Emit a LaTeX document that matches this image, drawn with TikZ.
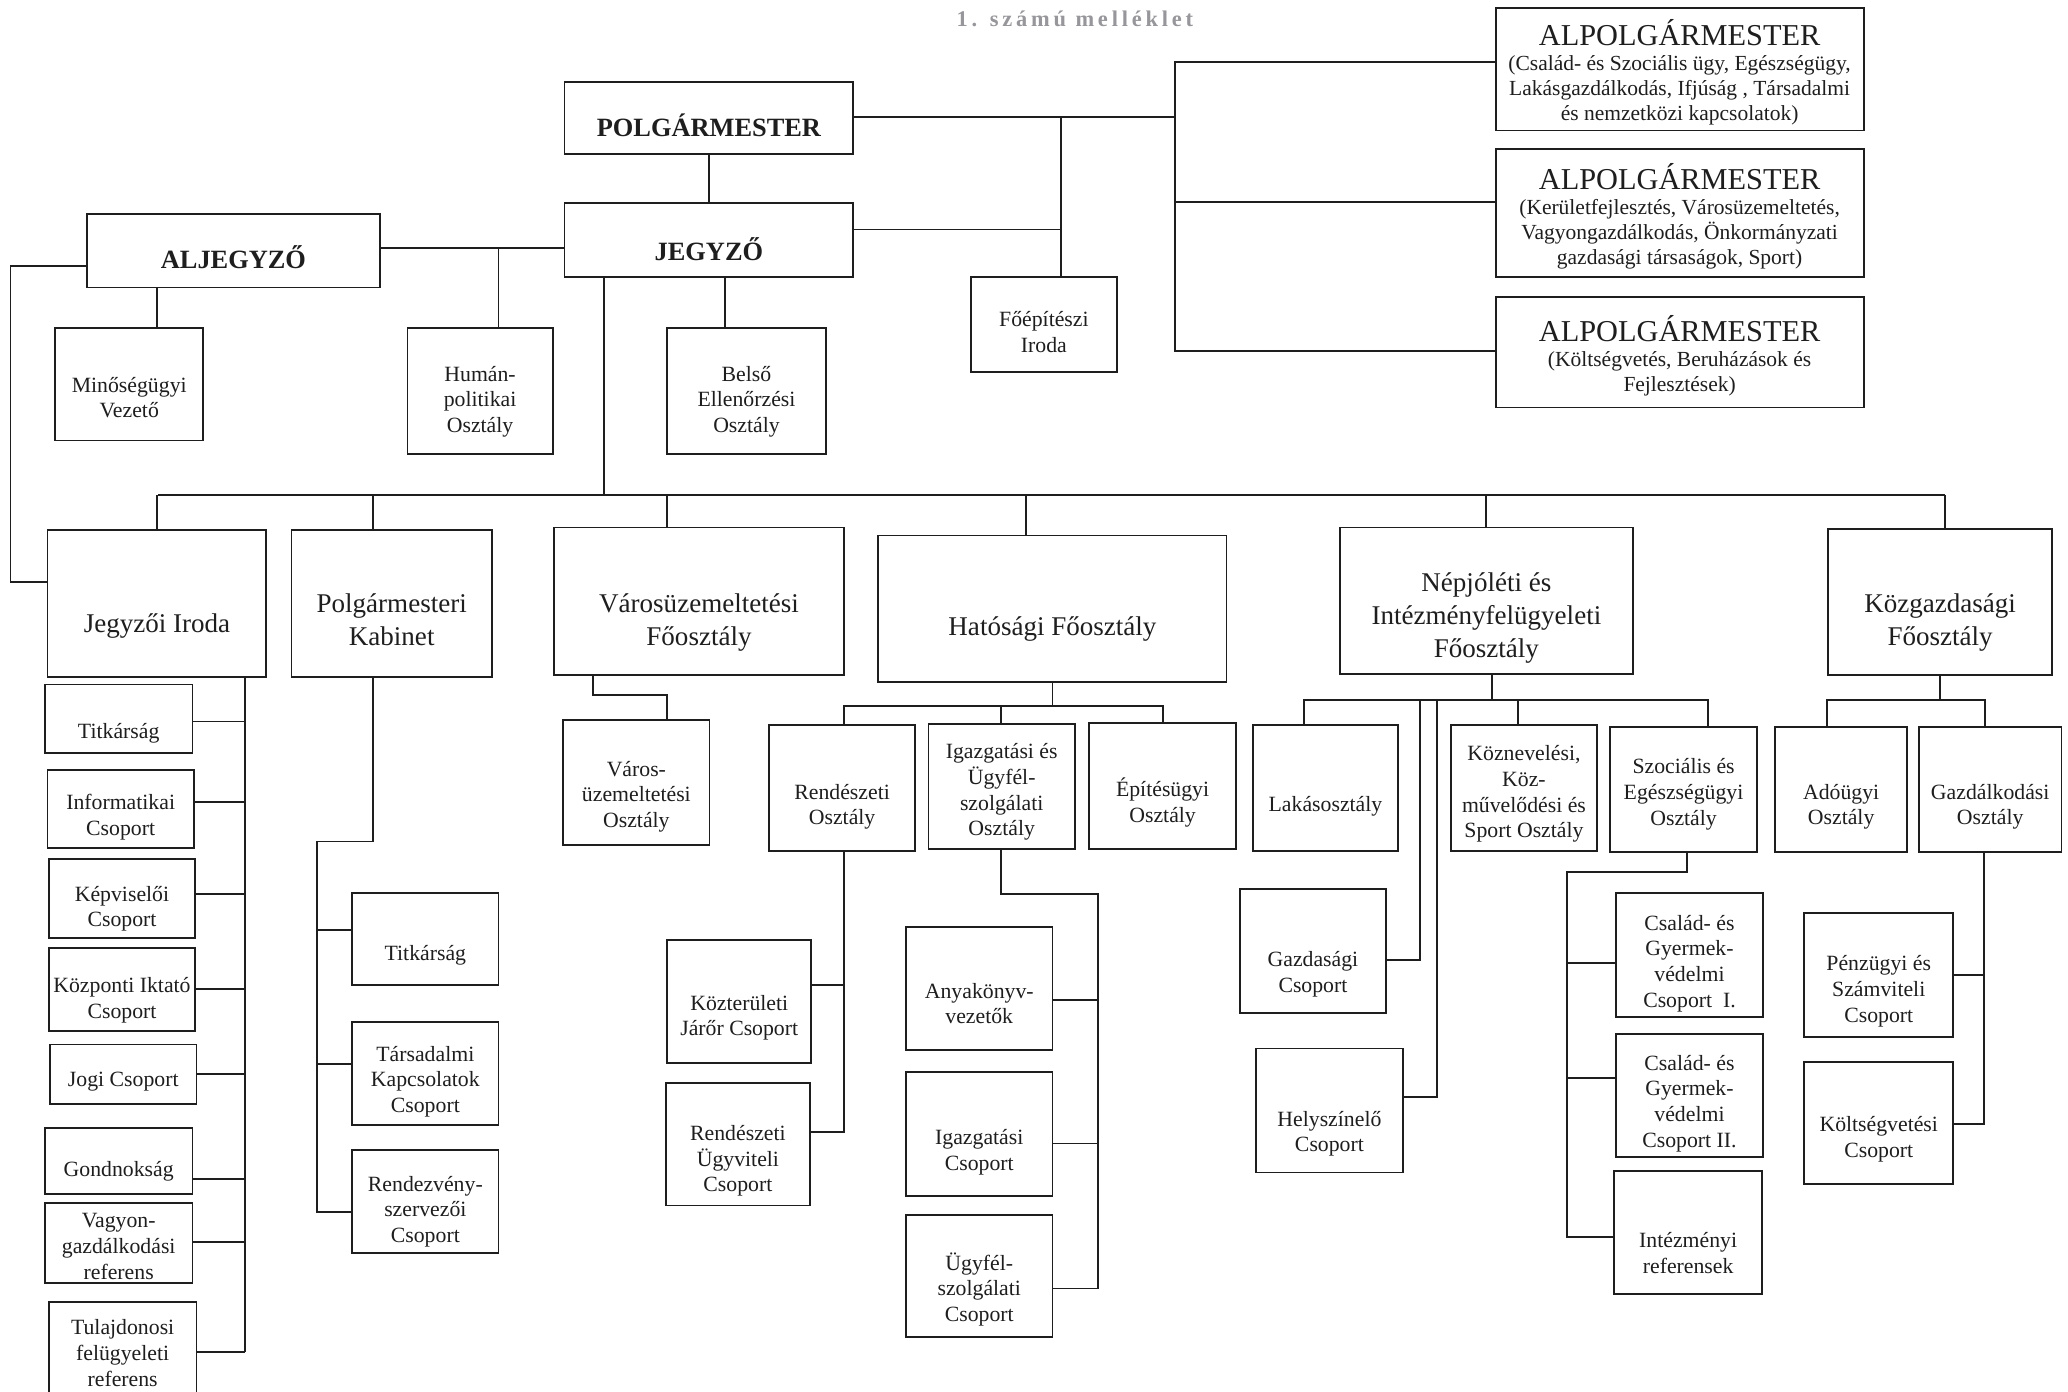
\documentclass[tikz,border=0pt]{standalone}
\usepackage{fontspec}
\setmainfont{Liberation Serif}
\definecolor{ink}{RGB}{30,30,30}
\definecolor{titlegray}{RGB}{150,150,155}
\newcommand\fsm{\fontsize{16.5}{19.5}\selectfont}
\newcommand\flg{\fontsize{20.5}{25}\selectfont}
\newcommand\fbd{\fontsize{20}{24}\selectfont\bfseries}
\newcommand\falp{\fontsize{16.3}{19}\selectfont}
% style, name, x1, y1, x2, y2, text shift, text
\newcommand\bx[8]{\node[box,#1,minimum width={(#5-#3)*1pt},minimum height={(#6-#4)*1pt}] (#2) at ({(#3+#5)/2},{(#4+#6)/2}) {\raisebox{\dimexpr-#7pt-7pt\relax}[0pt][0pt]{\begin{tabular}{@{}c@{}}#8\end{tabular}}};}
\begin{document}
\begin{tikzpicture}[x=1pt,y=-1pt,
  box/.style={draw=ink,line width=1.4pt,inner sep=0pt,outer sep=0pt,text=ink},
  sm/.style={font=\fsm},
  lg/.style={font=\flg},
  bd/.style={font=\fbd},
  alp/.style={font=\falp},
  ln/.style={draw=ink,line width=1.4pt}]
\useasboundingbox[fill=white] (0,0) rectangle (1568,1055);

\node[font=\fontsize{17}{20}\selectfont\bfseries\addfontfeature{LetterSpace=17},text=titlegray] (title) at (815,14) {1. számú melléklet};

% top level
\bx{bd}{polg}{428}{62}{647}{117}{7}{POLGÁRMESTER}
\bx{bd}{jeg}{428}{154}{647}{210}{8.5}{JEGYZŐ}
\bx{bd}{alj}{66}{162}{288}{218}{6.5}{ALJEGYZŐ}
\bx{alp}{alp1}{1134}{6}{1413}{99}{1}{{\fontsize{23}{26}\selectfont ALPOLGÁRMESTER}\\(Család- és Szociális ügy, Egészségügy,\\Lakásgazdálkodás, Ifjúság , Társadalmi\\és nemzetközi kapcsolatok)}
\bx{alp}{alp2}{1134}{113}{1413}{210}{1}{{\fontsize{23}{26}\selectfont ALPOLGÁRMESTER}\\(Kerületfejlesztés, Városüzemeltetés,\\Vagyongazdálkodás, Önkormányzati\\gazdasági társaságok, Sport)}
\bx{alp}{alp3}{1134}{225}{1413}{309}{1}{{\fontsize{23}{26}\selectfont ALPOLGÁRMESTER}\\(Költségvetés, Beruházások és\\Fejlesztések)}
\bx{sm}{foep}{736}{210}{847}{282}{5}{Főépítészi\\Iroda}
\bx{sm}{minos}{42}{249}{154}{334}{9}{Minőségügyi\\Vezető}
\bx{sm}{human}{309}{249}{419}{344}{5.5}{Humán-\\politikai\\Osztály}
\bx{sm}{belso}{506}{249}{626}{344}{5.5}{Belső\\Ellenőrzési\\Osztály}

% main row
\bx{lg}{jiroda}{36}{402}{202}{513}{15}{Jegyzői Iroda}
\bx{lg}{kabinet}{221}{402}{373}{513}{12.5}{Polgármesteri\\Kabinet}
\bx{lg}{varosf}{420}{400}{640}{512}{14}{Városüzemeltetési\\Főosztály}
\bx{lg}{hatos}{666}{406}{930}{517}{13.5}{Hatósági Főosztály}
\bx{lg}{nepj}{1016}{400}{1238}{511}{11}{Népjóléti és\\Intézményfelügyeleti\\Főosztály}
\bx{lg}{kozg}{1386}{401}{1556}{512}{13.5}{Közgazdasági\\Főosztály}

% Jegyzoi Iroda children
\bx{sm}{titk1}{34}{519}{146}{571}{8}{Titkárság}
\bx{sm}{info}{36}{584}{147}{643}{3.5}{Informatikai\\Csoport}
\bx{sm}{kepv}{37}{651}{148}{711}{5.5}{Képviselői\\Csoport}
\bx{sm}{kozp}{37}{719}{148}{782}{5.5}{Központi Iktató\\Csoport}
\bx{sm}{jogi}{38}{792}{149}{837}{3}{Jogi Csoport}
\bx{sm}{gond}{34}{855}{146}{905}{5.5}{Gondnokság}
\bx{sm}{vagy}{34}{912}{146}{973}{1.5}{Vagyon-\\gazdálkodási\\referens}
\bx{sm}{tulaj}{37}{987}{149}{1056}{3.5}{Tulajdonosi\\felügyeleti\\referens}

% Kabinet children
\bx{sm}{titk2}{267}{677}{378}{747}{9.5}{Titkárság}
\bx{sm}{tars}{267}{775}{378}{853}{3.5}{Társadalmi\\Kapcsolatok\\Csoport}
\bx{sm}{rendezv}{267}{872}{378}{950}{5}{Rendezvény-\\szervezői\\Csoport}

% Varosuzem child
\bx{sm}{vo}{427}{546}{538}{641}{8}{Város-\\üzemeltetési\\Osztály}

% Hatosagi children
\bx{sm}{rend}{583}{550}{694}{645}{11.5}{Rendészeti\\Osztály}
\bx{sm}{igazg}{704}{549}{815}{644}{1.5}{Igazgatási és\\Ügyfél-\\szolgálati\\Osztály}
\bx{sm}{epit}{826}{548}{937}{644}{11}{Építésügyi\\Osztály}
\bx{sm}{kozt}{506}{713}{615}{806}{9.5}{Közterületi\\Járőr Csoport}
\bx{sm}{rugy}{505}{821}{614}{914}{10}{Rendészeti\\Ügyviteli\\Csoport}
\bx{sm}{anya}{687}{703}{798}{796}{10.5}{Anyakönyv-\\vezetők}
\bx{sm}{igcs}{687}{813}{798}{907}{11}{Igazgatási\\Csoport}
\bx{sm}{ugyf}{687}{921}{798}{1014}{8.5}{Ügyfél-\\szolgálati\\Csoport}

% Nepjoleti children
\bx{sm}{lakas}{950}{550}{1060}{645}{11.5}{Lakásosztály}
\bx{sm}{kozn}{1100}{550}{1211}{645}{2}{Köznevelési,\\Köz-\\művelődési és\\Sport Osztály}
\bx{sm}{szoc}{1221}{551}{1332}{646}{1}{Szociális és\\Egészségügyi\\Osztály}
\bx{sm}{gazd}{940}{674}{1051}{768}{15}{Gazdasági\\Csoport}
\bx{sm}{hely}{952}{795}{1064}{889}{15}{Helyszínelő\\Csoport}
\bx{sm}{cs1}{1225}{677}{1337}{771}{4}{Család- és\\Gyermek-\\védelmi\\Csoport~~I.}
\bx{sm}{cs2}{1225}{784}{1337}{877}{3.5}{Család- és\\Gyermek-\\védelmi\\Csoport II.}
\bx{sm}{intez}{1224}{888}{1336}{981}{14.5}{Intézményi\\referensek}

% Kozgazdasagi children
\bx{sm}{ado}{1346}{551}{1446}{646}{10.5}{Adóügyi\\Osztály}
\bx{sm}{gazdalk}{1455}{551}{1563}{646}{10.5}{Gazdálkodási\\Osztály}
\bx{sm}{penz}{1368}{692}{1481}{786}{10}{Pénzügyi és\\Számviteli\\Csoport}
\bx{sm}{kolt}{1368}{805}{1481}{898}{9.5}{Költségvetési\\Csoport}

% ---------- connectors ----------
\coordinate (jA) at (890.6,88.5);
\coordinate (jF) at (804.5,88.5);
\draw[ln] (polg.south) -- (jeg.north);
\draw[ln] (polg.east |- jA) -- (jA);
\draw[ln] (alp1.west |- 0,47.3) -| (jA |- 0,266) -- (alp3.west |- 0,266);
\draw[ln] (jA |- 0,153.4) -- (alp2.west |- 0,153.4);
\draw[ln] (jF) -- (foep.north -| jF);
\draw[ln] (jeg.east |- 0,174) -- (jF |- 0,174);
\draw[ln] (alj.east |- 0,188) -- (jeg.west |- 0,188);
\draw[ln] (human.north -| 378,0) -- (378,188);
\draw[ln] (alj.south -| 119,0) -- (minos.north -| 119,0);
\draw[ln] (jeg.south -| 550,0) -- (belso.north -| 550,0);
\draw[ln] (alj.west |- 0,202) -| (8,441) -- (jiroda.west |- 0,441);

% main bus
\coordinate (bus) at (458,375);
\draw[ln] (jeg.south -| bus) -- (bus);
\draw[ln] (120,375) -- (1474.5,375);
\draw[ln] (jiroda.north) -- (jiroda.north |- bus);
\draw[ln] (kabinet.north -| 283,0) -- (283,375);
\draw[ln] (varosf.north -| 506,0) -- (506,375);
\draw[ln] (hatos.north -| 778,0) -- (778,375);
\draw[ln] (nepj.north) -- (nepj.north |- bus);
\draw[ln] (kozg.north -| 1474.5,0) -- (1474.5,375);

% Jegyzoi Iroda children
\draw[ln] (jiroda.south -| 186,0) -- (186,1025);
\draw[ln] (titk1.east |- 0,547) -- (186,547);
\draw[ln] (info.east |- 0,608) -- (186,608);
\draw[ln] (kepv.east |- 0,678) -- (186,678);
\draw[ln] (kozp.east |- 0,750) -- (186,750);
\draw[ln] (jogi.east |- 0,814) -- (186,814);
\draw[ln] (gond.east |- 0,894) -- (186,894);
\draw[ln] (vagy.east |- 0,942) -- (186,942);
\draw[ln] (tulaj.east |- 0,1025) -- (186,1025);

% Kabinet children
\draw[ln] (kabinet.south -| 283,0) |- (240.5,638) -- (240.5,919) -- (rendezv.west |- 0,919);
\draw[ln] (240.5,705) -- (titk2.west |- 0,705);
\draw[ln] (240.5,807) -- (tars.west |- 0,807);

% Varosuzem child
\draw[ln] (varosf.south -| 449.5,0) |- (506,527) -- (vo.north -| 506,0);

% Hatosagi children
\draw[ln] (hatos.south -| 798,0) -- (798,535);
\draw[ln] (rend.north -| 640,0) |- (882,535) -- (epit.north -| 882,0);
\draw[ln] (759,535) -- (igazg.north -| 759,0);
\draw[ln] (rend.south -| 640,0) -- (640,858) -- (rugy.east |- 0,858);
\draw[ln] (kozt.east |- 0,747) -- (640,747);
\draw[ln] (igazg.south -| 759,0) |- (832.5,678) -- (832.5,977) -- (ugyf.east |- 0,977);
\draw[ln] (anya.east |- 0,758) -- (832.5,758);
\draw[ln] (igcs.east |- 0,867) -- (832.5,867);

% Nepjoleti children
\draw[ln] (nepj.south -| 1131,0) -- (1131,531);
\draw[ln] (lakas.north -| 988.6,0) |- (1295,531) -- (szoc.north -| 1295,0);
\draw[ln] (1151,531) -- (kozn.north -| 1151,0);
\draw[ln] (1076.5,531) |- (gazd.east |- 0,728);
\draw[ln] (1089.5,531) |- (hely.east |- 0,832);
\draw[ln] (szoc.south -| 1279,0) |- (1188,661) -- (1188,938) -- (intez.west |- 0,938);
\draw[ln] (1188,730) -- (cs1.west |- 0,730);
\draw[ln] (1188,817.5) -- (cs2.west |- 0,817.5);

% Kozgazdasagi children
\draw[ln] (kozg.south -| 1471,0) -- (1471,531);
\draw[ln] (ado.north -| 1385,0) |- (1505,531) -- (gazdalk.north -| 1505,0);
\draw[ln] (gazdalk.south -| 1504,0) -- (1504,852) -- (kolt.east |- 0,852);
\draw[ln] (penz.east |- 0,739) -- (1504,739);
\end{tikzpicture}
\end{document}
